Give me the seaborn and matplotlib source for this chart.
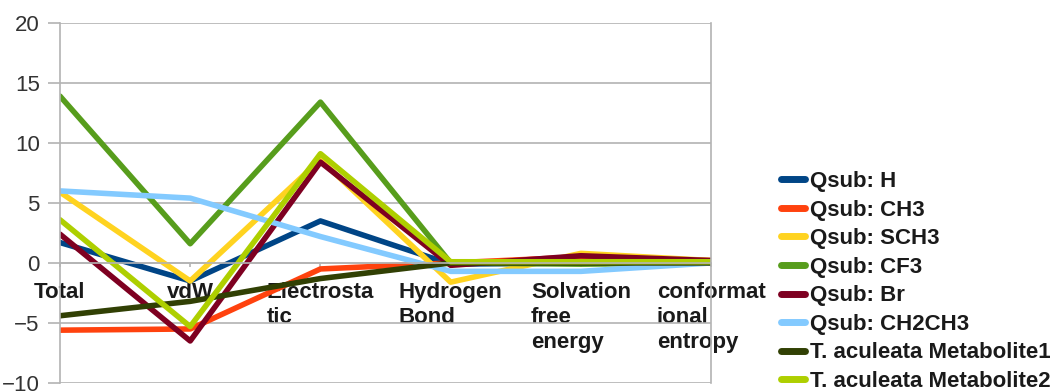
import pandas as pd
import matplotlib.pyplot as plt
import seaborn as sns

# Données
categories = ["Total", "vdW", "Electrosta\ntic", "Hydrogen\nBond",
              "Solvation\nfree\nenergy", "conformat\nional\nentropy"]
series_names = ["Qsub: H", "Qsub: CH3", "Qsub: SCH3", "Qsub: CF3", "Qsub: Br",
                "Qsub: CH2CH3", "T. aculeata Metabolite1", "T. aculeata Metabolite2"]
qsub_h = [1.7, -1.5, 3.5, -0.1, 0.0, 0.0]
qsub_ch3 = [-5.6, -5.5, -0.5, 0.0, 0.5, 0.2]
qsub_sch3 = [5.9, -1.5, 8.6, -1.6, 0.8, 0.2]
qsub_cf3 = [13.9, 1.6, 13.4, 0.0, -0.1, 0.0]
qsub_br = [2.4, -6.5, 8.4, -0.2, 0.6, 0.2]
qsub_ch2ch3 = [6.0, 5.4, 2.2, -0.7, -0.7, 0.0]
metabolite1 = [-4.4, -3.2, -1.3, 0.0, 0.0, 0.0]
metabolite2 = [3.6, -5.3, 9.1, 0.1, 0.1, 0.1]
colors = ["#004586", "#ff420e", "#ffd320", "#579d1c", "#7e0021",
          "#83caff", "#314004", "#aecf00"]

values = [qsub_h, qsub_ch3, qsub_sch3, qsub_cf3, qsub_br,
          qsub_ch2ch3, metabolite1, metabolite2]
rows = []
for name, vals in zip(series_names, values):
    for i, v in enumerate(vals):
        rows.append({"pos": i, "value": v, "series": name})
df = pd.DataFrame(rows)

sns.set_theme(style="white")
plt.rcParams['font.family'] = ['Liberation Sans', 'DejaVu Sans']

fig = plt.figure(figsize=(10.52, 3.91), dpi=100)
ax = fig.add_axes([0.057, 0.0205, 0.619, 0.921])
ax.set_axisbelow(True)

sns.lineplot(data=df, x="pos", y="value", hue="series", hue_order=series_names,
             palette=colors, linewidth=4, sort=False, ax=ax)

# spines d'abord (set_position remet les ticks à zéro)
for side in ["left", "right", "bottom"]:
    ax.spines[side].set_color("#b3b3b3")
    ax.spines[side].set_linewidth(1.2)
ax.spines["top"].set_visible(False)
ax.spines["bottom"].set_position(("data", 0))

ax.set_xlim(0, 5)
ax.set_ylim(-10, 20)
ax.set_yticks(range(-10, 21, 5))
ax.set_xticks(range(len(categories)))
ax.set_xticklabels(categories, fontsize=16, fontweight="bold", color="#1a1a1a",
                   linespacing=1.25)
for t in ax.get_xticklabels():
    t.set_multialignment("left")
ax.tick_params(axis="y", labelsize=16, labelcolor="#333333", color="#b3b3b3",
               length=8.6, width=1.2, pad=6, left=True)
ax.tick_params(axis="x", color="#b3b3b3", length=3, width=1.2, pad=11, bottom=True)
ax.grid(axis="y", color="#b3b3b3", linewidth=1.2)
ax.set_xlabel("")
ax.set_ylabel("")

handles, labels = ax.get_legend_handles_labels()
ax.legend(handles, labels, loc="center left", bbox_to_anchor=(0.732, 0.28),
          bbox_transform=fig.transFigure, frameon=False, borderpad=0,
          handlelength=1.08, handletextpad=0.22, labelspacing=0.34,
          prop={"size": 16, "weight": "bold"}, labelcolor="#1a1a1a")
for line in ax.get_legend().get_lines():
    line.set_linewidth(5)

plt.savefig("out.png", dpi=100)
plt.close()
